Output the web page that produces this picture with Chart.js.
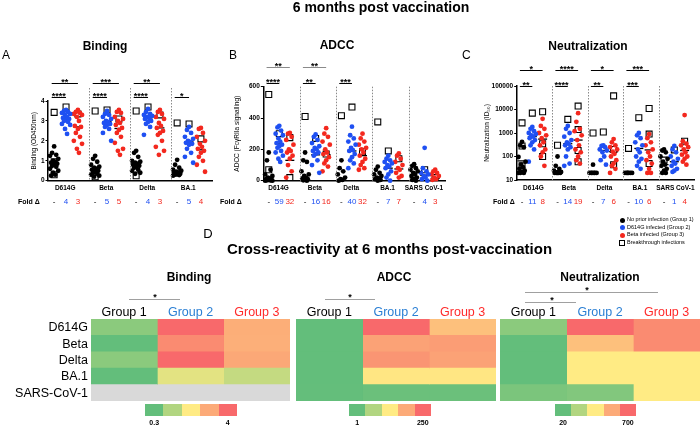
<!DOCTYPE html>
<html>
<head>
<meta charset="utf-8">
<script src="https://cdn.jsdelivr.net/npm/chart.js@4.4.1/dist/chart.umd.min.js"></script>
<style>
  body { margin: 0; background: #fff; font-family: Arial, "Liberation Sans", sans-serif; }
  #page { position: relative; width: 700px; height: 425px; overflow: hidden; }
  canvas { position: absolute; }
  .c { position: absolute; transform: translate(-50%, -50%); white-space: nowrap; line-height: 1; color: #000; }
  .l { position: absolute; transform: translate(0, -50%); white-space: nowrap; line-height: 1; color: #000; }
  .r { position: absolute; transform: translate(-100%, -50%); white-space: nowrap; line-height: 1; color: #000; }
  .b { font-weight: bold; }
</style>
</head>
<body>
<div id="page">
  <canvas id="cA" width="700" height="425" style="left:0;top:0"></canvas>
  <canvas id="cB" width="700" height="425" style="left:0;top:0"></canvas>
  <canvas id="cC" width="700" height="425" style="left:0;top:0"></canvas>
  <canvas id="hBind" width="199" height="82" style="left:91px;top:319px"></canvas>
  <canvas id="hAdcc" width="200" height="82" style="left:296px;top:319px"></canvas>
  <canvas id="hNeut" width="200" height="82" style="left:500px;top:319px"></canvas>

  <div class="c b" style="left:381px;top:7px;font-size:14px">6 months post vaccination</div>
  <div class="l" style="left:2px;top:55px;font-size:12px">A</div>
  <div class="l" style="left:229px;top:55px;font-size:12px">B</div>
  <div class="l" style="left:462px;top:55px;font-size:12px">C</div>
  <div class="c b" style="left:105px;top:46px;font-size:12px">Binding</div>
  <div class="c b" style="left:337px;top:45px;font-size:12px">ADCC</div>
  <div class="c b" style="left:588px;top:46px;font-size:12px">Neutralization</div>

  <div class="c" style="left:208px;top:233px;font-size:13px">D</div>
  <div class="l b" style="left:227px;top:248px;font-size:15px">Cross-reactivity at 6 months post-vaccination</div>
  <div class="c b" style="left:189px;top:277px;font-size:12px">Binding</div>
  <div class="c b" style="left:394px;top:277px;font-size:12px">ADCC</div>
  <div class="c b" style="left:600px;top:277px;font-size:12px">Neutralization</div>
  <div id="extra"></div>
</div>
<script>
// groups and colours
const groups = ['No prior infection (Group 1)', 'D614G infected (Group 2)', 'Beta infected (Group 3)'];
const groupColors = ['#000000', '#1f50f2', '#f3281e'];
const heatGroups = ['Group 1', 'Group 2', 'Group 3'];
const heatGroupColors = ['#000000', '#2a7fd4', '#ff2a2a'];

// ---- A: binding (OD450nm)
const bindVariants = ['D614G', 'Beta', 'Delta', 'BA.1'];
const bindG1 = [
  [1.72, 1.4, 1.3, 1.25, 1.1, 1.0, 0.95, 0.9, 0.85, 0.8, 0.75, 0.7, 0.6, 0.5, 0.4, 0.3, 0.25],
  [1.25, 1.1, 0.95, 0.8, 0.7, 0.65, 0.6, 0.55, 0.5, 0.45, 0.4, 0.35, 0.3, 0.25, 0.2],
  [1.5, 1.4, 1.2, 1.0, 0.95, 0.9, 0.85, 0.8, 0.75, 0.7, 0.65, 0.55, 0.5, 0.4, 0.35],
  [1.05, 0.8, 0.65, 0.55, 0.5, 0.45, 0.42, 0.4, 0.35, 0.32, 0.3, 0.28, 0.25]
];
const bindG2 = [
  [3.55, 3.5, 3.45, 3.4, 3.35, 3.3, 3.2, 3.15, 3.1, 3.05, 3.0, 2.95, 2.85, 2.8, 2.6, 2.35],
  [3.5, 3.35, 3.3, 3.2, 3.1, 3.0, 2.95, 2.9, 2.85, 2.8, 2.7, 2.6, 2.4, 2.0],
  [3.6, 3.45, 3.35, 3.3, 3.25, 3.2, 3.15, 3.1, 3.0, 2.95, 2.85, 2.7, 2.3],
  [2.7, 2.55, 2.4, 2.2, 2.1, 2.0, 1.95, 1.9, 1.85, 1.8, 1.6, 1.4, 1.2, 0.9]
];
const bindG3 = [
  [3.55, 3.45, 3.4, 3.35, 3.3, 3.2, 3.0, 2.75, 2.7, 2.6, 2.4, 2.2, 2.0, 1.85, 1.6, 1.4],
  [3.55, 3.45, 3.4, 3.2, 3.1, 3.0, 2.9, 2.8, 2.65, 2.55, 2.4, 2.2, 1.9, 1.6, 1.5, 1.3],
  [3.55, 3.45, 3.35, 3.2, 3.1, 2.9, 2.75, 2.65, 2.5, 2.4, 2.3, 2.0, 1.7, 1.5, 1.3],
  [2.65, 2.6, 2.4, 2.2, 2.0, 1.85, 1.7, 1.6, 1.5, 1.4, 1.2, 1.0, 0.8, 0.45]
];
const bindMed = [[0.87, 3.15, 2.7], [0.57, 2.97, 2.62], [0.8, 3.15, 2.65], [0.42, 1.95, 1.55]];
// breakthrough infections: [variant, group, value]
const bindBT = [[0,0,3.43],[0,0,0.95],[0,0,0.3],[0,1,3.7],[0,2,3.35],[1,0,3.5],[1,0,0.35],[1,0,0.2],[1,1,3.55],[1,2,3.1],
  [2,0,3.5],[2,0,0.25],[2,1,3.7],[2,2,3.3],[3,0,2.9],[3,1,2.85],[3,2,2.1]];
const bindFold = [[4, 3], [5, 5], [4, 3], [5, 4]];
const bindSig = [[0,1,'****'],[0,2,'**'],[1,1,'****'],[1,2,'***'],[2,1,'****'],[2,2,'**'],[3,1,'*']];
const bindTicks = [0, 1, 2, 3, 4];

// ---- B: ADCC
const adccVariants = ['D614G', 'Beta', 'Delta', 'BA.1', 'SARS CoV-1'];
const adccG1 = [
  [180, 130, 70, 40, 30, 20, 15, 10, 8, 5, 3, 2, 0, 0],
  [180, 130, 120, 60, 40, 30, 20, 15, 10, 5, 3, 0],
  [130, 80, 60, 40, 20, 10, 5, 0],
  [90, 70, 50, 40, 30, 20, 15, 10, 5, 0],
  [105, 95, 80, 70, 60, 50, 40, 30, 20, 10, 5, 0]
];
const adccG2 = [
  [350, 340, 320, 300, 290, 270, 250, 240, 230, 220, 210, 190, 180, 160, 140, 120],
  [295, 280, 260, 240, 220, 210, 200, 190, 180, 170, 160, 130, 100, 50],
  [345, 290, 270, 250, 230, 210, 195, 190, 170, 150, 130, 110, 80],
  [160, 140, 130, 120, 110, 100, 90, 80, 60, 40, 20, 0],
  [210, 80, 60, 50, 40, 30, 20, 10, 0]
];
const adccG3 = [
  [305, 300, 280, 260, 230, 200, 190, 180, 160, 140, 100, 60, 20],
  [335, 300, 280, 250, 230, 200, 180, 170, 150, 130, 110, 90, 60],
  [300, 270, 250, 230, 210, 200, 180, 160, 140, 120, 100, 80, 70],
  [175, 160, 140, 120, 100, 80, 70, 50, 30, 20],
  [70, 60, 50, 40, 30, 20, 10, 5]
];
const adccMed = [[5, 235, 130], [10, 165, 165], [5, 190, 160], [10, 80, 75], [20, 35, 15]];
const adccBT = [[0,0,550],[0,0,70],[0,1,300],[0,2,275],[0,2,20],[1,0,410],[1,1,270],[1,2,170],[2,0,415],[2,1,470],[2,2,185],
  [3,0,375],[3,1,190],[3,2,140],[4,1,70],[4,2,20]];
const adccFold = [[59, 32], [16, 16], [40, 32], [7, 7], [4, 3]];
const adccSig = [[0,1,'****'],[0,2,'**'],[1,1,'**'],[1,2,'**'],[2,1,'***']];
const adccTicks = [0, 200, 400, 600];

// ---- C: neutralization (ID50)
const neutVariants = ['D614G', 'Beta', 'Delta', 'BA.1', 'SARS CoV-1'];
const neutG1 = [
  [420, 300, 250, 95, 60, 45, 35, 30, 25, 22, 20, 20, 20],
  [100, 40, 30, 25, 22, 20, 20, 20, 20, 20],
  [45, 20, 20, 20, 20, 20, 20],
  [20, 20, 20, 20, 20, 20],
  [200, 180, 150, 100, 80, 60, 45, 40, 30, 25, 20, 20]
];
const neutG2 = [
  [1800, 1500, 1200, 1000, 900, 800, 700, 600, 500, 400, 300, 200, 60],
  [2000, 1500, 1000, 700, 500, 400, 350, 300, 250, 200, 100, 50, 40],
  [300, 280, 250, 200, 180, 150, 100, 70, 45],
  [1000, 800, 600, 400, 300, 200, 150, 100, 80, 60, 40, 30],
  [280, 200, 150, 100, 80, 60, 50, 40, 30, 25, 22]
];
const neutG3 = [
  [4000, 2000, 1500, 1000, 800, 600, 400, 300, 200, 150, 100, 40],
  [7000, 3000, 1500, 1200, 800, 500, 300, 200, 150, 100, 70, 50],
  [550, 400, 300, 250, 200, 160, 130, 100, 70, 50, 40, 30, 20],
  [900, 600, 400, 300, 200, 150, 100, 70, 50, 30, 20, 20],
  [5800, 450, 350, 300, 250, 200, 150, 120, 100, 80, 60, 45]
];
const neutMed = [[65, 700, 550], [25, 350, 500], [20, 180, 160], [20, 220, 190], [45, 60, 180]];
const neutBT = [[0,0,2700],[0,0,280],[0,0,40],[0,1,7000],[0,2,8000],[0,2,350],[0,2,100],[1,0,300],[1,1,3800],[1,2,14000],
  [1,2,1400],[1,2,180],[1,2,60],[2,0,1000],[2,1,1100],[2,2,38000],[2,2,200],[2,2,45],[3,0,220],[3,1,4500],[3,2,11000],
  [3,2,900],[3,2,50],[4,0,70],[4,1,190],[4,2,450]];
const neutFold = [[11, 8], [14, 19], [7, 6], [10, 6], [1, 4]];
const neutSig = [[0,1,'**'],[0,2,'*'],[1,1,'****'],[1,2,'****'],[2,1,'**'],[2,2,'*'],[3,1,'***'],[3,2,'***']];
const neutTicks = [10, 100, 1000, 10000, 100000];

// ---- D: heatmaps (rows = variant, cols = group 1..3)
const heatRows = ['D614G', 'Beta', 'Delta', 'BA.1', 'SARS-CoV-1'];
const bindHeat = [[0.78, 4.0, 3.02], [0.3, 3.52, 3.0], [0.78, 4.0, 3.1], [0.3, 1.82, 1.45], [null, null, null]];
const adccHeat = [[1, 250, 167], [1, 195, 200], [1, 208, 195], [1, 130, 130], [2, 7, 7]];
const neutHeat = [[108, 700, 612], [20, 472, 612], [20, 360, 360], [20, 360, 360], [72, 88, 360]];
const bindRange = [0.3, 4];
const adccRange = [1, 250];
const neutRange = [20, 700];

// group position inside a variant section, and a small beeswarm spread
const gx = [0.15, 0.44, 0.73];
const swarm = [0, -1, 1, -2, 2, -0.5, 0.5, -1.5, 1.5];
const jit = k => swarm[k % swarm.length] * 0.05;

function heatColor(t) {
  const g = [99, 190, 123], y = [255, 235, 132], r = [248, 105, 107];
  const a = t < 0.5 ? g : y, b = t < 0.5 ? y : r, f = t < 0.5 ? t * 2 : (t - 0.5) * 2;
  const c = a.map((v, i) => Math.round(v + (b[i] - v) * f));
  return 'rgb(' + c.join(',') + ')';
}
function cellColor(v, range) {
  if (v === null) return '#d9d9d9';
  return heatColor(Math.max(0, Math.min(1, (v - range[0]) / (range[1] - range[0]))));
}

const decor = {
  id: 'decor',
  afterDraw(chart, args, o) {
    const ctx = chart.ctx, xs = chart.scales.x, a = chart.chartArea;
    const n = o.names.length;
    ctx.save();
    // dotted separators
    ctx.strokeStyle = '#8a8a8a'; ctx.lineWidth = 1; ctx.setLineDash([1.5, 1.5]);
    for (let i = 1; i < n; i++) {
      const x = Math.round(xs.getPixelForValue(i)) + 0.5;
      ctx.beginPath(); ctx.moveTo(x, a.top + o.sepTop); ctx.lineTo(x, a.bottom); ctx.stroke();
    }
    ctx.setLineDash([]);
    ctx.textAlign = 'center'; ctx.textBaseline = 'middle';
    // variant names
    ctx.fillStyle = '#000'; ctx.font = 'bold 6.5px Arial';
    o.names.forEach((nm, i) => ctx.fillText(nm, xs.getPixelForValue(i + o.labelPos), o.labelY));
    // fold change row
    ctx.font = '8px Arial';
    o.folds.forEach((f, i) => {
      ['-', String(f[0]), String(f[1])].forEach((s, g) => {
        ctx.fillStyle = groupColors[g];
        ctx.fillText(s, xs.getPixelForValue(i + gx[g]), o.foldY);
      });
    });
    ctx.fillStyle = '#000'; ctx.font = 'bold 7px Arial'; ctx.textAlign = 'left';
    ctx.fillText('Fold \u0394', o.foldX, o.foldY);
    // significance brackets
    ctx.textAlign = 'center'; ctx.textBaseline = 'alphabetic'; ctx.font = 'bold 9px Arial';
    o.sig.forEach(([i, g, s]) => {
      const y = Math.round(a.top + (g === 1 ? o.sigLow : o.sigHigh)) + 0.5;
      const x1 = xs.getPixelForValue(i + gx[0] - 0.06), x2 = xs.getPixelForValue(i + gx[g]);
      ctx.strokeStyle = g === 1 ? '#000' : o.highColor; ctx.lineWidth = 1;
      ctx.beginPath(); ctx.moveTo(x1, y); ctx.lineTo(x2, y); ctx.stroke();
      ctx.fillStyle = '#000';
      ctx.fillText(s, (x1 + x2) / 2, y + 1);
    });
    // y title
    ctx.translate(o.yTitleX, (a.top + a.bottom) / 2);
    ctx.rotate(-Math.PI / 2);
    ctx.textBaseline = 'middle'; ctx.font = '6.5px Arial';
    ctx.fillText(o.yTitle, 0, 0);
    ctx.restore();
  }
};

function dots(arrs, g) {
  const out = [];
  arrs.forEach((vals, i) => vals.forEach((v, k) => out.push({ x: i + gx[g] + jit(k), y: v })));
  return out;
}

function scatterPanel(id, p) {
  const n = p.names.length;
  const datasets = [p.g1, p.g2, p.g3].map((arrs, g) => ({
    data: dots(arrs, g), backgroundColor: groupColors[g], borderWidth: 0, pointRadius: 2.4, clip: false
  }));
  datasets.push({
    data: p.bt.map(([i, g, v]) => ({ x: i + gx[g], y: v })), pointStyle: 'rect', pointRadius: 4.2,
    backgroundColor: '#fff', borderColor: '#000', borderWidth: 1.1, clip: false
  });
  const med = [];
  p.med.forEach((m, i) => m.forEach((v, g) => med.push({ x: i + gx[g], y: v })));
  datasets.push({ data: med, pointStyle: 'line', pointRadius: 4.5, borderColor: '#000', borderWidth: 1.3, clip: false });

  new Chart(document.getElementById(id), {
    type: 'scatter',
    data: { datasets },
    options: {
      responsive: false, animation: false, events: [],
      layout: { padding: { left: p.area[0] - 30, top: p.area[1], right: 700 - p.area[2], bottom: 425 - p.area[3] } },
      plugins: { legend: { display: false }, tooltip: { enabled: false }, decor: p.decor },
      scales: {
        x: {
          type: 'linear', min: 0, max: n, ticks: { display: false }, grid: { display: false },
          border: { color: '#000', width: 1.5 }, afterFit: s => { s.height = 0; }
        },
        y: {
          type: p.yType, min: p.ticks[0], max: p.ticks[p.ticks.length - 1],
          afterBuildTicks: s => { s.ticks = p.ticks.map(v => ({ value: v })); },
          ticks: { color: '#000', font: { size: 6.5, weight: 'bold', family: 'Arial' }, padding: 1, callback: v => String(v) },
          grid: { drawOnChartArea: false, tickLength: 2.5, color: '#000' },
          border: { color: '#000', width: 1.5 },
          afterFit: s => { s.width = 30; }
        }
      }
    },
    plugins: [decor]
  });
}

scatterPanel('cA', {
  names: bindVariants, g1: bindG1, g2: bindG2, g3: bindG3, med: bindMed, bt: bindBT,
  yType: 'linear', ticks: bindTicks, area: [48, 101, 212, 180.7],
  decor: { names: bindVariants, folds: bindFold, sig: bindSig, labelPos: 0.42, labelY: 188, foldY: 202, foldX: 18,
    sepTop: -13, sigLow: -4.3, sigHigh: -18.3, highColor: '#000', yTitle: 'Binding (OD450nm)', yTitleX: 34 }
});
scatterPanel('cB', {
  names: adccVariants, g1: adccG1, g2: adccG2, g3: adccG3, med: adccMed, bt: adccBT,
  yType: 'linear', ticks: adccTicks, area: [263.3, 86.7, 445, 180.7],
  decor: { names: adccVariants, folds: adccFold, sig: adccSig, labelPos: 0.42, labelY: 188, foldY: 202, foldX: 220,
    sepTop: 0, sigLow: -3.7, sigHigh: -20, highColor: '#8a8a8a', yTitle: 'ADCC (Fc\u03b3RIIa signalling)', yTitleX: 237 }
});
scatterPanel('cC', {
  names: neutVariants, g1: neutG1, g2: neutG2, g3: neutG3, med: neutMed, bt: neutBT,
  yType: 'logarithmic', ticks: neutTicks, area: [516.7, 86, 696, 180],
  decor: { names: neutVariants, folds: neutFold, sig: neutSig, labelPos: 0.47, labelY: 188, foldY: 202, foldX: 493,
    sepTop: 0, sigLow: 0, sigHigh: -16, highColor: '#000', yTitle: 'Neutralization (ID\u2085\u2080)', yTitleX: 487 }
});

function heatChart(id, values, range) {
  new Chart(document.getElementById(id), {
    type: 'bar',
    data: {
      labels: heatRows,
      datasets: [0, 1, 2].map(g => ({
        data: heatRows.map(() => 1),
        backgroundColor: values.map(r => cellColor(r[g], range)),
        borderWidth: 0, barPercentage: 1, categoryPercentage: 1
      }))
    },
    options: {
      indexAxis: 'y', responsive: false, animation: false, events: [],
      layout: { padding: 0 },
      plugins: { legend: { display: false }, tooltip: { enabled: false } },
      scales: {
        x: { stacked: true, min: 0, max: 3, display: false },
        y: { stacked: true, display: false }
      }
    }
  });
}
heatChart('hBind', bindHeat, bindRange);
heatChart('hAdcc', adccHeat, adccRange);
heatChart('hNeut', neutHeat, neutRange);

// html annotations: row labels, heatmap group headers, brackets, colour bars, legend
const extra = document.getElementById('extra');
function add(html) { extra.insertAdjacentHTML('beforeend', html); }
heatRows.forEach((s, i) => add('<div class="r" style="left:88px;top:' + (319 + 82 / 5 * (i + 0.5)) + 'px;font-size:12.5px">' + s + '</div>'));
[[91, 290], [296, 496], [500, 700]].forEach(([x0, x1]) => {
  const w = (x1 - x0) / 3;
  heatGroups.forEach((s, g) => add('<div class="c" style="left:' + (x0 + w * (g + 0.5)) + 'px;top:312px;font-size:12.5px;color:' +
    heatGroupColors[g] + '">' + s + '</div>'));
});
[[129, 180, 299, 155], [325, 375, 299, 350], [525, 658, 292, 587], [525, 576, 302, 552]].forEach(([x0, x1, y, sx]) => {
  add('<div style="position:absolute;left:' + x0 + 'px;top:' + y + 'px;width:' + (x1 - x0) + 'px;border-top:1px solid #a0a0a0"></div>');
  add('<div class="c b" style="left:' + sx + 'px;top:' + (y - 2) + 'px;font-size:9px">*</div>');
});
[[145, 92, bindRange], [349, 82, adccRange], [555, 81, neutRange]].forEach(([x0, w, r]) => {
  const sw = w / 5;
  [0, 0.25, 0.5, 0.75, 1].forEach((t, k) => add('<div style="position:absolute;left:' + (x0 + k * sw) + 'px;top:404px;width:' +
    (sw + 0.5) + 'px;height:12px;background:' + heatColor(t) + '"></div>'));
  add('<div class="c b" style="left:' + (x0 + sw / 2) + 'px;top:422px;font-size:7px">' + r[0] + '</div>');
  add('<div class="c b" style="left:' + (x0 + w - sw / 2) + 'px;top:422px;font-size:7px">' + r[1] + '</div>');
});
groups.concat(['Breakthrough infections']).forEach((s, g) => {
  const y = 220 + g * 7.6;
  const mark = g < 3
    ? '<div style="position:absolute;left:619.5px;top:' + (y - 2.5) + 'px;width:5px;height:5px;border-radius:50%;background:' + groupColors[g] + '"></div>'
    : '<div style="position:absolute;left:619px;top:' + (y - 3) + 'px;width:4px;height:4px;border:1px solid #000"></div>';
  add(mark);
  add('<div class="l" style="left:627px;top:' + y + 'px;font-size:5.5px">' + s + '</div>');
});
</script>
</body>
</html>
